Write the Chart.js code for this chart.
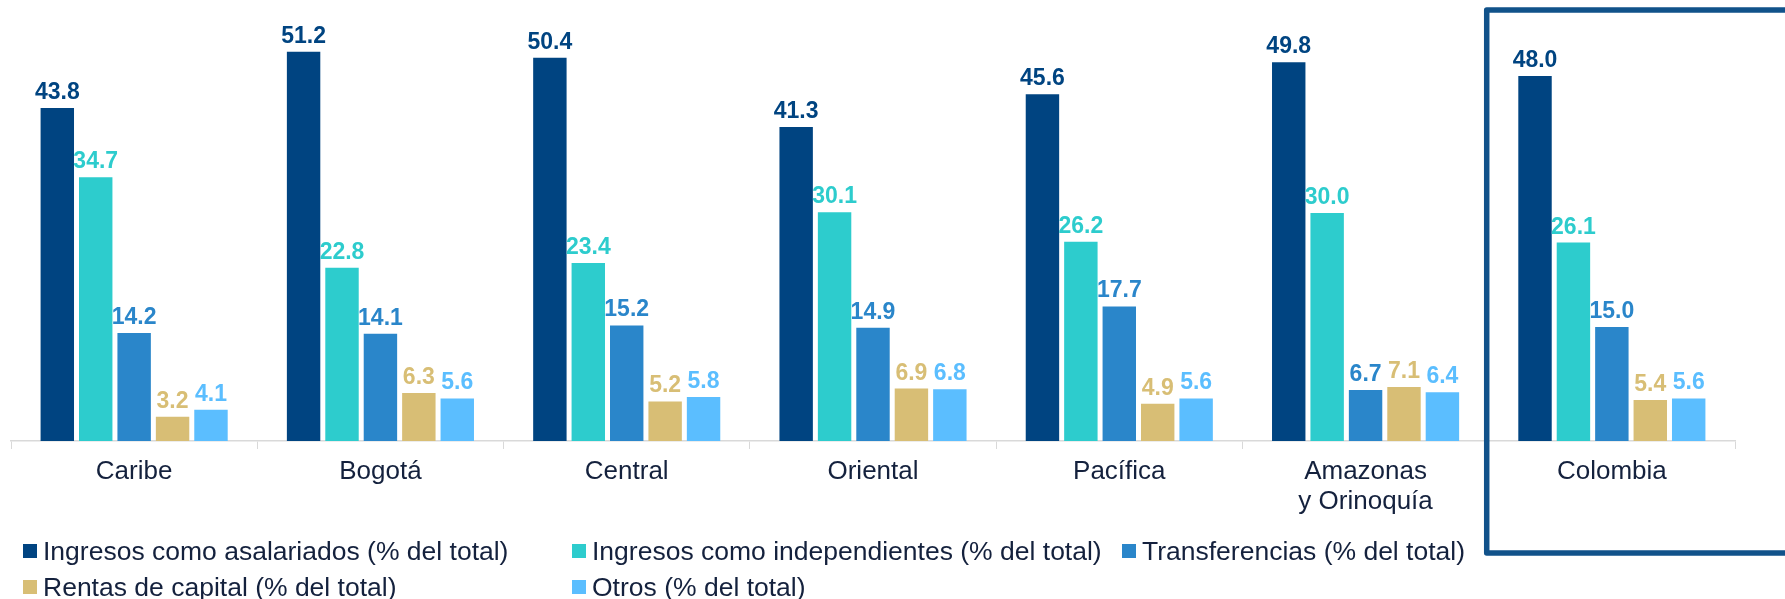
<!DOCTYPE html>
<html lang="es">
<head>
  <meta charset="UTF-8">
  <title>Composición del ingreso por región</title>
  <script src="https://cdn.jsdelivr.net/npm/chart.js"></script>
  <style>
    body {
      margin: 0;
      background: #fff;
      font-family: 'Liberation Sans', Arial, sans-serif;
    }
    .wrap {
      position: relative;
      width: 1785px;
      height: 599px;
      overflow: hidden;
    }
    .legend {
      position: absolute;
      left: 23px;
      top: 533px;
      display: grid;
      grid-template-columns: 549px 550px 549px;
    }
    .legend div {
      display: flex;
      align-items: center;
      height: 36px;
      font-size: 26.5px;
      color: #14213d;
      white-space: nowrap;
    }
    .legend span {
      display: inline-block;
      width: 14px;
      height: 14px;
      margin-right: 6px;
    }
  </style>
</head>
<body>
<div class="wrap">
  <canvas id="chart" width="1785" height="599"></canvas>
  <div class="legend" id="legend"></div>
</div>

<script>
  const regions = ['Caribe', 'Bogotá', 'Central', 'Oriental', 'Pacífica', ['Amazonas', 'y Orinoquía'], 'Colombia'];
  const seriesNames = [
    'Ingresos como asalariados (% del total)',
    'Ingresos como independientes (% del total)',
    'Transferencias (% del total)',
    'Rentas de capital (% del total)',
    'Otros (% del total)'
  ];
  const asalariados    = [43.8, 51.2, 50.4, 41.3, 45.6, 49.8, 48.0];
  const independientes = [34.7, 22.8, 23.4, 30.1, 26.2, 30.0, 26.1];
  const transferencias = [14.2, 14.1, 15.2, 14.9, 17.7, 6.7, 15.0];
  const rentas         = [3.2, 6.3, 5.2, 6.9, 4.9, 7.1, 5.4];
  const otros          = [4.1, 5.6, 5.8, 6.8, 5.6, 6.4, 5.6];
  const colors = ['#004481', '#2dcccd', '#2a86ca', '#d8be75', '#5bbeff'];

  const seriesData = [asalariados, independientes, transferencias, rentas, otros];

  // value labels above each bar
  const valueLabels = {
    id: 'valueLabels',
    afterDatasetsDraw(chart) {
      const ctx = chart.ctx;
      ctx.save();
      ctx.font = "bold 23px 'Liberation Sans', Arial, sans-serif";
      ctx.textAlign = 'center';
      ctx.textBaseline = 'alphabetic';
      chart.data.datasets.forEach((ds, i) => {
        ctx.fillStyle = ds.backgroundColor;
        chart.getDatasetMeta(i).data.forEach((bar, j) => {
          ctx.fillText(ds.data[j].toFixed(1), bar.x, bar.y - 9);
        });
      });
      ctx.restore();
    }
  };

  // frame around the Colombia group
  const highlight = {
    id: 'highlight',
    afterDraw(chart) {
      const x = chart.scales.x;
      const half = (x.getPixelForValue(1) - x.getPixelForValue(0)) / 2;
      const left = x.getPixelForValue(6) - half - 2;
      const ctx = chart.ctx;
      ctx.save();
      ctx.strokeStyle = '#11528a';
      ctx.lineWidth = 5.5;
      ctx.lineJoin = 'round';
      ctx.strokeRect(left, 10, 600, 543);
      ctx.restore();
    }
  };

  new Chart(document.getElementById('chart'), {
    type: 'bar',
    data: {
      labels: regions,
      datasets: seriesNames.map((name, i) => ({
        label: name,
        data: seriesData[i],
        backgroundColor: colors[i],
        borderWidth: 0,
        categoryPercentage: 0.78,
        barPercentage: 0.87
      }))
    },
    options: {
      responsive: false,
      animation: false,
      layout: { padding: { left: 11, right: 50, top: 0, bottom: 0 } },
      plugins: {
        legend: { display: false },
        tooltip: { enabled: false }
      },
      scales: {
        x: {
          afterFit(scale) { scale.height = 158; },
          grid: {
            offset: true,
            drawOnChartArea: false,
            tickLength: 8,
            color: '#d9d9d9'
          },
          border: { color: '#d9d9d9', width: 1.5 },
          ticks: {
            padding: 8,
            color: '#14213d',
            font: { family: "'Liberation Sans', Arial, sans-serif", size: 26, lineHeight: 1.15 }
          }
        },
        y: {
          display: false,
          min: 0,
          max: 58
        }
      }
    },
    plugins: [valueLabels, highlight]
  });

  const legend = document.getElementById('legend');
  [0, 1, 2, 3, 4].forEach(i => {
    const item = document.createElement('div');
    item.innerHTML = '<span style="background:' + colors[i] + '"></span>' + seriesNames[i];
    legend.appendChild(item);
  });
</script>
</body>
</html>
